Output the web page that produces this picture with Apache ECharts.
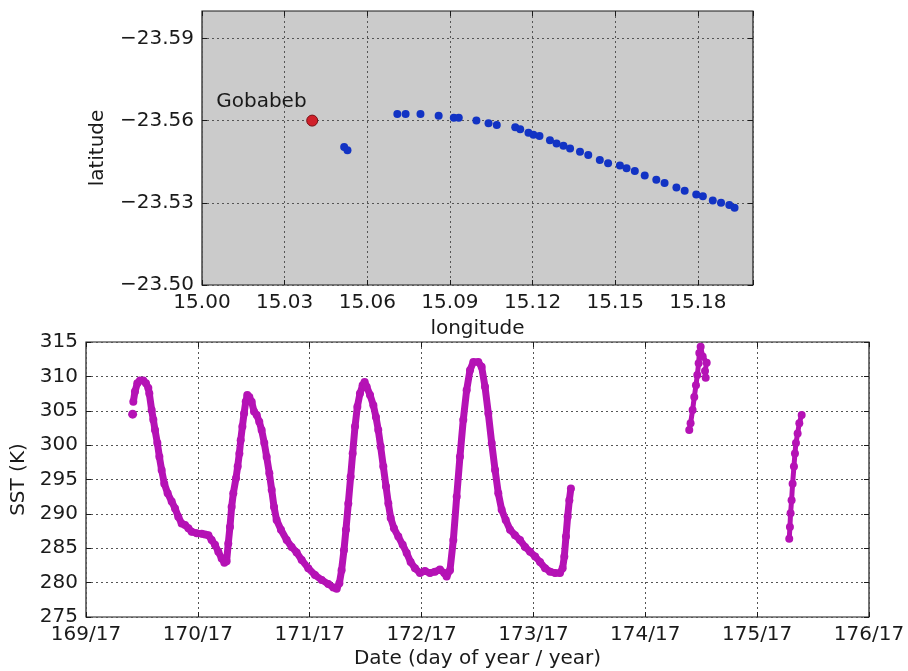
<!DOCTYPE html>
<html>
<head>
<meta charset="utf-8">
<title>Gobabeb track and SST</title>
<script src="https://cdn.jsdelivr.net/npm/echarts@6/dist/echarts.min.js"></script>
<style>
  body { margin: 0; background: #fff; }
  #main { width: 908px; height: 671px; }
</style>
</head>
<body>
<div id="main"></div>
<script type="text/javascript">
// track of the instrument (longitude / latitude)
var trackLon = [15.0516, 15.0528, 15.0709, 15.0739, 15.0793, 15.0859, 15.0914, 15.0932, 15.0996,
    15.1040, 15.1070, 15.1137, 15.1155, 15.1185, 15.1203, 15.1225, 15.1263, 15.1287, 15.1312,
    15.1336, 15.1372, 15.1402, 15.1444, 15.1474, 15.1517, 15.1541, 15.1571, 15.1607, 15.1649,
    15.1679, 15.1722, 15.1752, 15.1794, 15.1818, 15.1854, 15.1884, 15.1914, 15.1933];
var trackLat = [-23.5504, -23.5492, -23.5624, -23.5624, -23.5624, -23.5618, -23.5610, -23.5610, -23.5600,
    -23.5590, -23.5584, -23.5576, -23.5568, -23.5556, -23.5548, -23.5544, -23.5528, -23.5516, -23.5508,
    -23.5498, -23.5486, -23.5474, -23.5456, -23.5444, -23.5436, -23.5426, -23.5416, -23.5400, -23.5384,
    -23.5372, -23.5356, -23.5344, -23.5330, -23.5324, -23.5308, -23.5300, -23.5292, -23.5282];
var siteName = 'Gobabeb';
var siteLon = 15.040;
var siteLat = -23.560;

var lonTicks = [15.00, 15.03, 15.06, 15.09, 15.12, 15.15, 15.18];
var latTicks = [-23.59, -23.56, -23.53, -23.50];

// SST (K) against day of year
var sstDay1 = [169.423, 169.438, 169.459, 169.483, 169.512, 169.536, 169.557, 169.566, 169.587, 169.602,
    169.617, 169.638, 169.656, 169.676, 169.700, 169.730, 169.766, 169.796, 169.825, 169.855,
    169.885, 169.915, 169.945, 169.990, 170.034, 170.064, 170.094, 170.123, 170.153, 170.183,
    170.213, 170.237, 170.257, 170.272, 170.287, 170.302, 170.317, 170.341, 170.356, 170.371,
    170.383, 170.398, 170.413, 170.428, 170.442, 170.460, 170.481, 170.502, 170.526, 170.549,
    170.570, 170.594, 170.615, 170.639, 170.660, 170.681, 170.704, 170.743, 170.794, 170.838,
    170.883, 170.928, 170.987, 171.047, 171.107, 171.166, 171.211, 171.241, 171.265, 171.285,
    171.306, 171.324, 171.345, 171.366, 171.384, 171.405, 171.426, 171.449, 171.473, 171.491,
    171.509, 171.539, 171.569, 171.592, 171.613, 171.634, 171.658, 171.682, 171.703, 171.724,
    171.753, 171.792, 171.831, 171.867, 171.902, 171.941, 171.986, 172.030, 172.075, 172.120,
    172.164, 172.203, 172.224, 172.254, 172.284, 172.314, 172.343, 172.373, 172.403, 172.433,
    172.463, 172.507, 172.537, 172.567, 172.597, 172.627, 172.657, 172.686, 172.716, 172.752,
    172.791, 172.835, 172.880, 172.925, 172.970, 173.015, 173.059, 173.104, 173.149, 173.194,
    173.237, 173.261, 173.276, 173.291, 173.306, 173.321, 173.335];
var sstVal1 = [306.3, 307.8, 309.0, 309.4, 309.4, 309.0, 308.3, 307.5, 305.1, 303.7,
    302.2, 300.3, 298.3, 296.4, 294.4, 293.0, 291.8, 290.8, 289.6, 288.6,
    288.4, 287.9, 287.4, 287.2, 287.1, 287.0, 286.9, 286.2, 285.5, 284.5,
    283.5, 282.9, 283.1, 285.7, 288.1, 291.0, 293.0, 295.2, 296.9, 298.8,
    300.7, 302.7, 304.6, 306.3, 307.3, 307.0, 306.3, 304.9, 304.4, 303.4,
    302.2, 300.3, 298.3, 295.9, 293.5, 291.0, 289.1, 287.7, 286.2, 285.2,
    284.4, 283.3, 282.1, 281.1, 280.4, 279.8, 279.3, 279.1, 279.9, 281.8,
    284.7, 287.7, 291.5, 295.4, 298.8, 302.7, 305.6, 307.5, 308.7, 309.2,
    308.5, 307.3, 305.8, 304.1, 302.2, 299.8, 296.9, 294.0, 291.5, 289.4,
    287.9, 286.7, 285.5, 284.3, 283.0, 282.1, 281.4, 281.7, 281.4, 281.6,
    281.9, 281.4, 280.9, 281.8, 286.2, 292.5, 298.3, 303.7, 308.0, 310.9,
    312.1, 312.1, 311.4, 308.5, 304.6, 300.3, 296.4, 293.0, 290.6, 289.1,
    287.7, 286.9, 286.2, 285.2, 284.5, 283.8, 283.0, 282.1, 281.6, 281.4,
    281.4, 282.1, 283.8, 286.7, 289.6, 292.0, 293.7];
var sstDay2 = [174.393, 174.405, 174.423, 174.438, 174.453, 174.465, 174.477, 174.483, 174.495,
    174.513, 174.549, 174.534, 174.540];
var sstVal2 = [302.2, 303.2, 305.1, 307.0, 308.7, 310.2, 311.9, 313.4, 314.3,
    312.9, 312.0, 310.8, 309.8];
var sstDay3 = [175.287, 175.293, 175.299, 175.308, 175.317, 175.329, 175.338, 175.347, 175.362,
    175.377, 175.398];
var sstVal3 = [286.4, 288.1, 290.1, 292.0, 294.4, 296.9, 298.8, 300.3, 301.7, 303.2, 304.4];
var sstLoneDay = [169.417];
var sstLoneVal = [304.5];

var dayTicks = [169, 170, 171, 172, 173, 174, 175, 176];
var sstTicks = [275, 280, 285, 290, 295, 300, 305, 310, 315];

function pairs(xs, ys) {
    return xs.map(function (x, i) { return [x, ys[i]]; });
}

var font = 'DejaVu Sans';
var ink = '#1a1a1a';
var gridDots = { color: '#555', type: [2, 3], width: 1 };
var tickIn = { show: true, inside: true, length: 5, lineStyle: { color: ink, width: 1 } };
var magenta = '#b512b5';

var myChart = echarts.init(document.getElementById('main'));
myChart.setOption({
    animation: false,
    textStyle: { fontFamily: font },
    grid: [
        { left: 202, top: 11, width: 551, height: 274, show: true, backgroundColor: '#cbcbcb', borderColor: ink, borderWidth: 1.2 },
        { left: 86, top: 342, width: 783, height: 275, show: true, backgroundColor: '#fff', borderColor: ink, borderWidth: 1.2 }
    ],
    xAxis: [
        {
            gridIndex: 0, type: 'value', min: 15, max: 15.2, interval: 0.03,
            axisLine: { show: false }, axisTick: tickIn,
            axisLabel: {
                customValues: lonTicks, margin: 8, color: ink, fontSize: 20, fontFamily: font,
                formatter: function (v) { return v.toFixed(2); }
            },
            splitLine: { show: true, lineStyle: gridDots },
            name: 'longitude', nameLocation: 'middle', nameGap: 34,
            nameTextStyle: { color: ink, fontSize: 20, fontFamily: font }
        },
        {
            gridIndex: 0, type: 'value', position: 'top', min: 15, max: 15.2, interval: 0.03,
            axisLine: { show: false }, axisTick: tickIn, axisLabel: { show: false }, splitLine: { show: false }
        },
        {
            gridIndex: 1, type: 'value', min: 169, max: 176, interval: 1,
            axisLine: { show: false }, axisTick: tickIn,
            axisLabel: {
                customValues: dayTicks, margin: 8, color: ink, fontSize: 20, fontFamily: font,
                formatter: function (v) { return v + '/17'; }
            },
            splitLine: { show: true, lineStyle: gridDots },
            name: 'Date (day of year / year)', nameLocation: 'middle', nameGap: 32,
            nameTextStyle: { color: ink, fontSize: 20, fontFamily: font }
        },
        {
            gridIndex: 1, type: 'value', position: 'top', min: 169, max: 176, interval: 1,
            axisLine: { show: false }, axisTick: tickIn, axisLabel: { show: false }, splitLine: { show: false }
        }
    ],
    yAxis: [
        {
            gridIndex: 0, type: 'value', inverse: true, min: -23.6, max: -23.5,
            axisLine: { show: false },
            axisTick: { show: true, inside: true, length: 5, customValues: latTicks, lineStyle: { color: ink } },
            axisLabel: {
                customValues: latTicks, margin: 8, color: ink, fontSize: 20, fontFamily: font,
                formatter: function (v) { return v.toFixed(2).replace('-', '\u2212'); }
            },
            splitLine: { show: true, lineStyle: gridDots },
            name: 'latitude', nameLocation: 'middle', nameGap: 94,
            nameTextStyle: { color: ink, fontSize: 20, fontFamily: font }
        },
        {
            gridIndex: 0, type: 'value', position: 'right', inverse: true, min: -23.6, max: -23.5,
            axisLine: { show: false },
            axisTick: { show: true, inside: true, length: 5, customValues: latTicks, lineStyle: { color: ink } },
            axisLabel: { show: false }, splitLine: { show: false }
        },
        {
            gridIndex: 1, type: 'value', min: 275, max: 315, interval: 5,
            axisLine: { show: false }, axisTick: tickIn,
            axisLabel: { customValues: sstTicks, margin: 8, color: ink, fontSize: 20, fontFamily: font },
            splitLine: { show: true, lineStyle: gridDots },
            name: 'SST (K)', nameLocation: 'middle', nameGap: 53,
            nameTextStyle: { color: ink, fontSize: 20, fontFamily: font }
        },
        {
            gridIndex: 1, type: 'value', position: 'right', min: 275, max: 315, interval: 5,
            axisLine: { show: false }, axisTick: tickIn, axisLabel: { show: false }, splitLine: { show: false }
        }
    ],
    series: [
        {
            type: 'scatter', xAxisIndex: 0, yAxisIndex: 0,
            symbolSize: 8, itemStyle: { color: '#1233c4', opacity: 1 },
            data: pairs(trackLon, trackLat)
        },
        {
            type: 'scatter', xAxisIndex: 0, yAxisIndex: 0,
            symbolSize: 11, itemStyle: { color: '#d0202a', opacity: 1, borderColor: '#7a1015', borderWidth: 1 },
            label: {
                show: true, formatter: siteName, position: [-90, -23],
                color: ink, fontSize: 20, fontFamily: font
            },
            data: [[siteLon, siteLat]]
        },
        {
            type: 'line', xAxisIndex: 2, yAxisIndex: 2,
            symbol: 'circle', symbolSize: 8, showSymbol: true,
            lineStyle: { color: magenta, width: 7 }, itemStyle: { color: magenta, opacity: 1 },
            data: pairs(sstDay1, sstVal1)
        },
        {
            type: 'line', xAxisIndex: 2, yAxisIndex: 2,
            symbol: 'circle', symbolSize: 8, showSymbol: true,
            lineStyle: { color: magenta, width: 5 }, itemStyle: { color: magenta, opacity: 1 },
            data: pairs(sstDay2, sstVal2)
        },
        {
            type: 'line', xAxisIndex: 2, yAxisIndex: 2,
            symbol: 'circle', symbolSize: 8, showSymbol: true,
            lineStyle: { color: magenta, width: 5 }, itemStyle: { color: magenta, opacity: 1 },
            data: pairs(sstDay3, sstVal3)
        },
        {
            type: 'scatter', xAxisIndex: 2, yAxisIndex: 2,
            symbolSize: 9, itemStyle: { color: magenta, opacity: 1 },
            data: pairs(sstLoneDay, sstLoneVal)
        }
    ]
});
</script>
</body>
</html>
